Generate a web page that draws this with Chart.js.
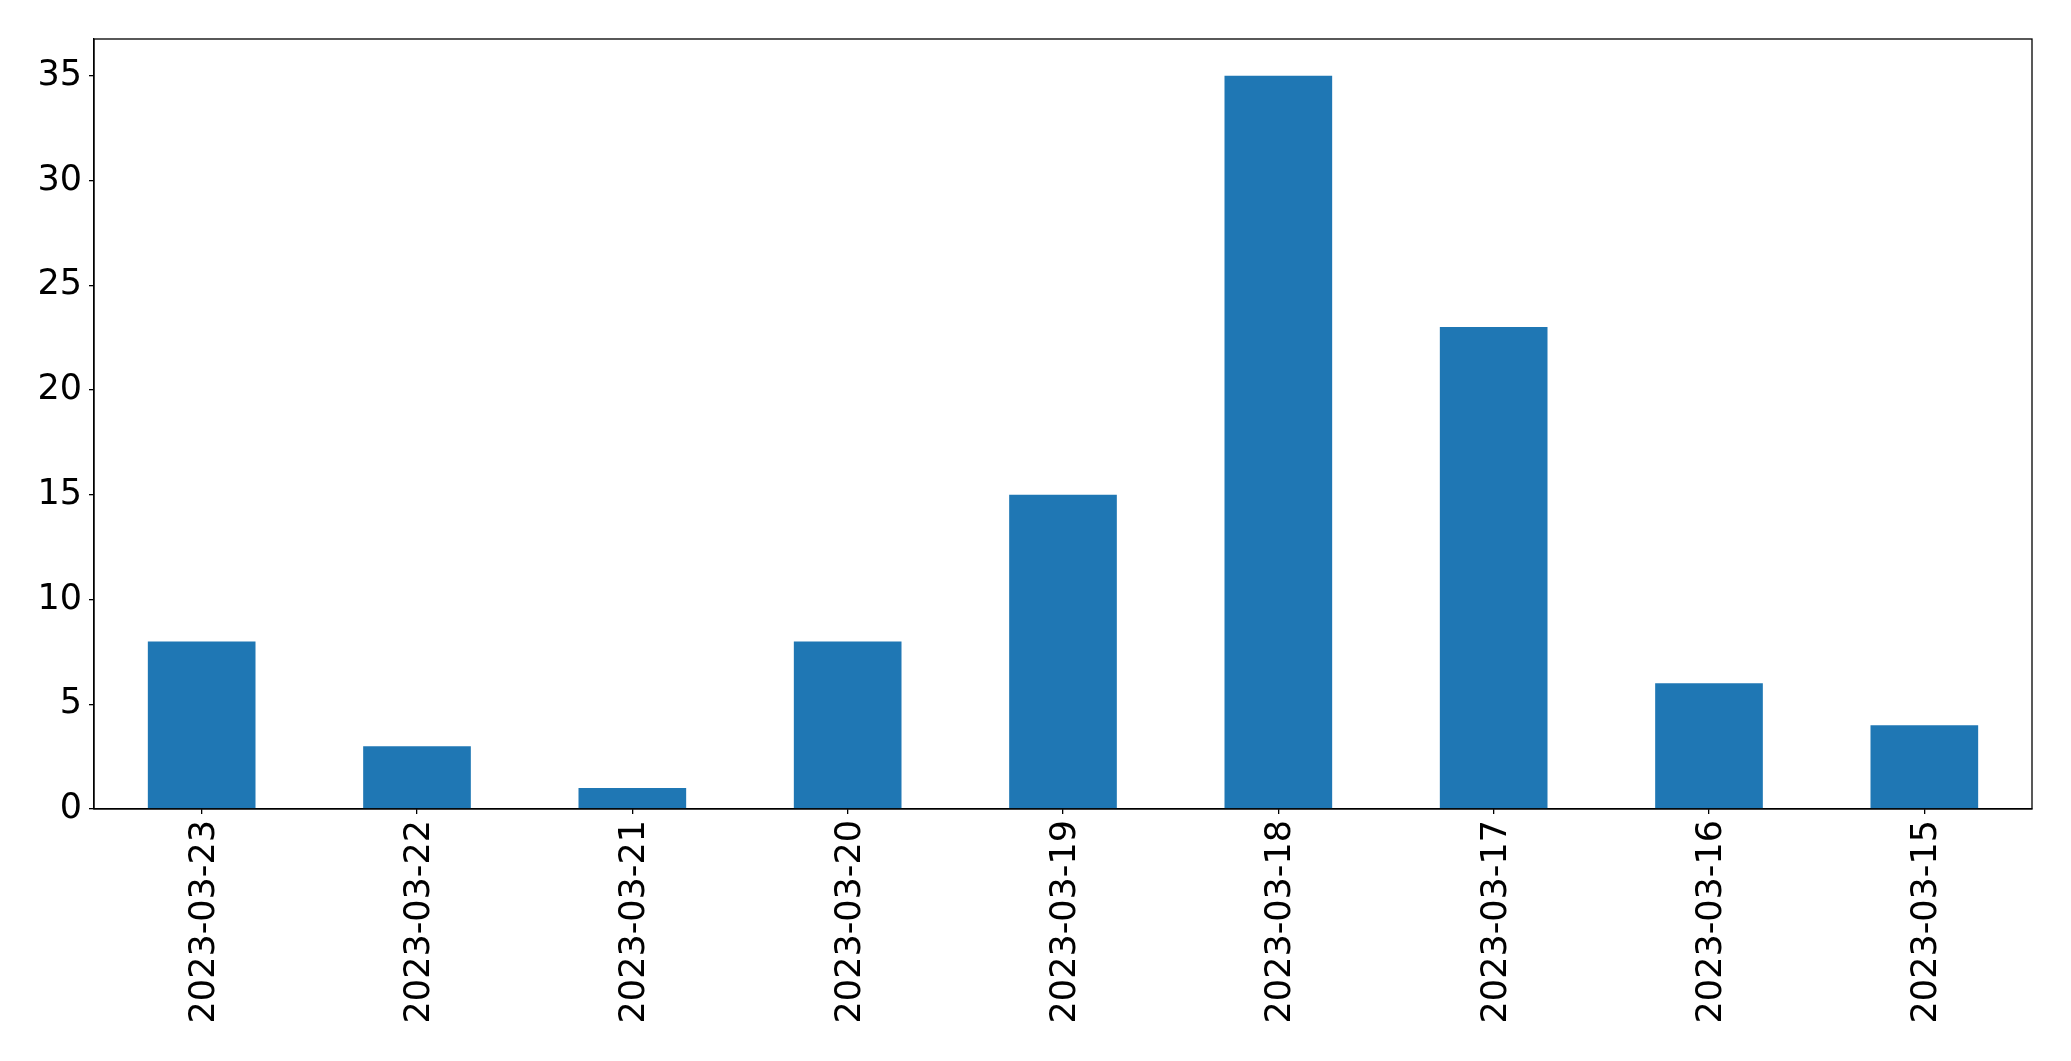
<!DOCTYPE html>
<html>
<head>
<meta charset="utf-8">
<script src="https://cdn.jsdelivr.net/npm/chart.js@4/dist/chart.umd.min.js"></script>
<style>
  html, body { margin: 0; padding: 0; background: #ffffff; }
  #wrap { width: 2071px; height: 1061px; }
</style>
</head>
<body>
<div id="wrap"><canvas id="c" width="2071" height="1061"></canvas></div>
<script>
const categories = ["2023-03-23", "2023-03-22", "2023-03-21", "2023-03-20", "2023-03-19", "2023-03-18", "2023-03-17", "2023-03-16", "2023-03-15"];
const counts = [8, 3, 1, 8, 15, 35, 23, 6, 4];
const yTickValues = [0, 5, 10, 15, 20, 25, 30, 35];
const yMax = 36.75;

const frame = {
  id: 'frame',
  afterDraw(chart) {
    const a = chart.chartArea, ctx = chart.ctx;
    ctx.save();
    ctx.strokeStyle = '#000';
    ctx.lineWidth = 1.3;
    ctx.strokeRect(a.left, a.top, a.right - a.left, a.bottom - a.top);
    ctx.restore();
  }
};

new Chart(document.getElementById('c'), {
  type: 'bar',
  data: {
    labels: categories,
    datasets: [{
      data: counts,
      backgroundColor: '#1f77b4',
      borderWidth: 0,
      categoryPercentage: 0.5,
      barPercentage: 1.0
    }]
  },
  options: {
    responsive: false,
    animation: false,
    devicePixelRatio: 1,
    layout: { padding: { top: 39, right: 39, left: 0, bottom: 0 } },
    plugins: { legend: { display: false }, tooltip: { enabled: false } },
    scales: {
      x: {
        grid: { display: true, offset: false, drawOnChartArea: false, drawTicks: true, tickLength: 5, color: '#000', lineWidth: 1.3 },
        border: { display: true, color: '#000', width: 1.3 },
        ticks: {
          color: '#000',
          font: { family: 'DejaVu Sans', size: 35 },
          minRotation: 90, maxRotation: 90,
          padding: 6,
          labelOffset: 3,
          autoSkip: false
        },
        afterFit(scale) { scale.height = 252; }
      },
      y: {
        min: 0, max: yMax,
        grid: { display: true, drawOnChartArea: false, drawTicks: true, tickLength: 5, color: '#000', lineWidth: 1.3 },
        border: { display: true, color: '#000', width: 1.3 },
        ticks: {
          color: '#000',
          font: { family: 'DejaVu Sans', size: 35 },
          stepSize: 5,
          padding: 7
        },
        afterBuildTicks(scale) {
          scale.ticks = yTickValues.map(v => ({ value: v }));
        },
        afterFit(scale) { scale.width = 94; }
      }
    }
  },
  plugins: [frame]
});
</script>
</body>
</html>
